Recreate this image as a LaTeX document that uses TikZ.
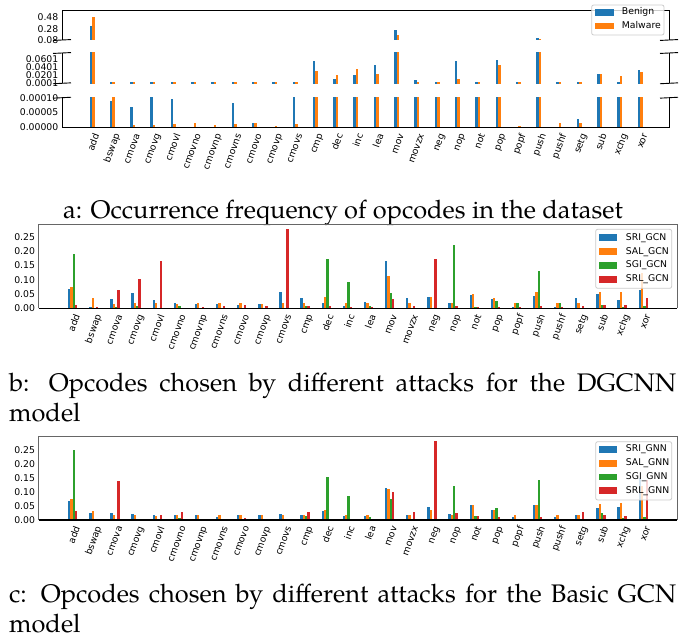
\documentclass[tikz,border=0pt]{standalone}
\usepackage{fontspec}
\newfontfamily\dejavu{DejaVu Sans}
\newfontfamily\capfont{TeX Gyre Pagella}
\newcommand\tf{\dejavu\fontsize{9.3}{10}\selectfont}
\newcommand\cf{\capfont\fontsize{25.4}{30}\selectfont}
\definecolor{cblue}{HTML}{1F77B4}
\definecolor{corange}{HTML}{FF7F0E}
\definecolor{cgreen}{HTML}{2CA02C}
\definecolor{cred}{HTML}{D62728}
\tikzset{
  xlab/.style={rotate=70, anchor=north east, inner sep=0pt, text height=6.8pt, text depth=1.9pt, font=\tf},
  ylab/.style={anchor=east, inner sep=0pt, text height=6.8pt, text depth=0pt, font=\tf},
  spine/.style={line width=0.9pt, black},
  spinegray/.style={line width=1pt, black!60},
  brk/.style={line width=0.9pt, black},
  legbox/.style={draw=black!20, fill=white, fill opacity=0.8, rounded corners=2pt, line width=0.8pt},
  legtxt/.style={anchor=west, inner sep=0pt, text height=6.8pt, text depth=1.9pt, font=\tf},
  captext/.style={inner sep=0pt, font=\cf},
}
\def\labs{add,bswap,cmova,cmovg,cmovl,cmovno,cmovnp,cmovns,cmovo,cmovp,cmovs,cmp,dec,inc,lea,mov,movzx,neg,nop,not,pop,popf,push,pushf,setg,sub,xchg,xor}
% chart a data, units of 1e-4
\def\dataA{0/3200/4900, 1/0.897/2, 2/0.666/0.069, 3/2/0.07, 4/0.94/0.1, 5/0/0.14, 6/0/0.07, 7/0.83/0.1, 8/0.14/0.14, 9/0/0.04, 10/2/0.1, 11/550/310, 12/107/206, 13/206/350, 14/450/230, 15/2500/1650, 16/80/30, 17/2/2, 18/550/107, 19/10/30, 20/576/450, 21/0/0.04, 22/1140/1000, 23/0/0.14, 24/0.28/0.14, 25/230/230, 26/30/180, 27/330/280}
\def\dataB{0/.067/.074/.190/.012, 1/.005/.036/0/.005, 2/.033/.015/.005/.064, 3/.053/.019/.008/.102, 4/.029/.019/0/.165, 5/.019/.015/.008/0, 6/.015/.019/0/.005, 7/.015/.019/0/.008, 8/.012/.019/0/.012, 9/.015/.015/0/.008, 10/.057/.019/0/.277, 11/.036/.019/.008/.008, 12/.019/.040/.172/.008, 13/.008/.019/.092/.005, 14/.022/.019/.008/.005, 15/.165/.113/.053/.033, 16/.036/.019/0/.008, 17/.040/.040/0/.172, 18/.019/.019/.221/.008, 19/.047/.050/.003/.003, 20/.033/.036/.026/.005, 21/.005/.019/.019/.005, 22/.043/.057/.130/.008, 23/.005/.019/.019/.005, 24/.036/.019/0/.008, 25/.050/.057/.012/.012, 26/.029/.057/.005/.012, 27/.064/.124/.008/.036}
\def\dataC{0/.068/.075/.250/.032, 1/.025/.032/0/0, 2/.025/.018/0/.139, 3/.021/.018/0/.004, 4/.018/.014/0/.018, 5/.018/.018/.007/.029, 6/.018/.018/0/.004, 7/.011/.018/0/.004, 8/.018/.018/0/.007, 9/.018/.018/0/.004, 10/.021/.018/0/.004, 11/.018/.018/.014/.029, 12/.032/.036/.154/0, 13/.014/.018/.086/0, 14/.014/.018/.011/.004, 15/.114/.111/.075/.100, 16/.018/.018/0/.029, 17/.046/.036/0/.282, 18/.021/.018/.121/.025, 19/.054/.054/.014/.014, 20/.036/.036/.043/.011, 21/.011/.018/.004/0, 22/.054/.054/.143/.011, 23/.011/.018/.004/0, 24/.018/.018/0/.029, 25/.043/.057/.025/.018, 26/.046/.061/.007/.014, 27/.150/.120/.011/.143}
\begin{document}
\begin{tikzpicture}[x=1pt,y=-1pt]
\useasboundingbox (0,0) rectangle (688,642);
\fill[white] (0,0) rectangle (688,642);
% ================= chart a =================
\begin{scope}
  \clip (62,10) rectangle (669,40);
  \foreach \i/\b/\m in \dataA {
    \pgfmathsetmacro\xc{92+\i*20.3}
    \pgfmathsetmacro\yb{40-(\b-800)*0.005675}
    \pgfmathsetmacro\ym{40-(\m-800)*0.005675}
    \fill[cblue] (\xc-2.5,41) rectangle (\xc,\yb);
    \fill[corange] (\xc,41) rectangle (\xc+2.5,\ym);
  }
\end{scope}
\begin{scope}
  \clip (62,53) rectangle (669,83.3);
  \foreach \i/\b/\m in \dataA {
    \pgfmathsetmacro\xc{92+\i*20.3}
    \pgfmathsetmacro\yb{min(83.3-(\b-1)*0.0405,82.4)}
    \pgfmathsetmacro\ym{min(83.3-(\m-1)*0.0405,82.4)}
    \fill[cblue] (\xc-2.5,84) rectangle (\xc,\yb);
    \fill[corange] (\xc,84) rectangle (\xc+2.5,\ym);
  }
\end{scope}
\begin{scope}
  \clip (62,97.7) rectangle (669,127);
  \foreach \i/\b/\m in \dataA {
    \pgfmathsetmacro\xc{92+\i*20.3}
    \pgfmathsetmacro\yb{127-min(\b,2)*29.3}
    \pgfmathsetmacro\ym{127-min(\m,2)*29.3}
    \fill[cblue] (\xc-2.5,127) rectangle (\xc,\yb);
    \fill[corange] (\xc,127) rectangle (\xc+2.5,\ym);
  }
\end{scope}
\draw[spine] (62,40) -- (62,10) -- (669,10) -- (669,40);
\draw[spine] (62,53) -- (62,83.3);
\draw[spine] (669,53) -- (669,83.3);
\draw[spine] (62,97.7) -- (62,127) -- (669,127) -- (669,97.7);
\foreach \yy in {40,53,83.3,97.7} {
  \foreach \xx in {62,669} {
    \draw[brk] (\xx-9,\yy+0.45) -- (\xx+9,\yy-0.45);
  }
}
\node[ylab] (a48) at (58.5,17.3) {0.48};
\node[ylab] (a28) at (58.5,28.65) {0.28};
\node[ylab] (a08) at (58.5,40) {0.08};
\node[ylab] (a0601) at (58.5,59) {0.0601};
\node[ylab] (a0401) at (58.5,67.1) {0.0401};
\node[ylab] (a0201) at (58.5,75.2) {0.0201};
\node[ylab] (a0001) at (58.5,83.3) {0.0001};
\node[ylab] (a00010) at (58.5,97.7) {0.00010};
\node[ylab] (a00005) at (58.5,112.35) {0.00005};
\node[ylab] (a00000) at (58.5,127) {0.00000};
\foreach \lab [count=\i from 0] in \labs {
  \pgfmathsetmacro\xc{92+\i*20.3}
  \node[xlab] (a-\lab) at (\xc+1,132.5) {\lab};
}
\draw[legbox] (591.7,5) rectangle (664,35);
\fill[cblue] (595,9.1) rectangle (614,15.6);
\fill[corange] (595,22.7) rectangle (614,29.2);
\node[legtxt] (la1) at (621.7,12.3) {Benign};
\node[legtxt] (la2) at (621.7,26) {Malware};
\node[captext, anchor=base] (capa) at (343,218.3) {a: Occurrence frequency of opcodes in the dataset};
% ================= chart b =================
\foreach \i/\s/\a/\g/\r in \dataB {
  \pgfmathsetmacro\xc{72.7+\i*21.13}
  \fill[cblue] (\xc-4.66,308.3) rectangle (\xc-2.33,{308.3-\s*286.6});
  \fill[corange] (\xc-2.33,308.3) rectangle (\xc,{308.3-\a*286.6});
  \fill[cgreen] (\xc,308.3) rectangle (\xc+2.33,{308.3-\g*286.6});
  \fill[cred] (\xc+2.33,308.3) rectangle (\xc+4.66,{308.3-\r*286.6});
}
\draw[spinegray] (38.7,308.3) -- (38.7,224.7) -- (677.3,224.7) -- (677.3,308.3);
\draw[spine, line width=1.1pt] (38.7,308.3) -- (677.3,308.3);
\foreach \v/\t [count=\k] in {0/0.00,0.05/0.05,0.10/0.10,0.15/0.15,0.20/0.20,0.25/0.25} {
  \node[ylab] (by\k) at (35.2,{308.3-\v*286.6}) {\t};
}
\foreach \lab [count=\i from 0] in \labs {
  \pgfmathsetmacro\xc{72.7+\i*21.13}
  \node[xlab] (b-\lab) at (\xc+1,313.3) {\lab};
}
\draw[legbox] (595.7,229.3) rectangle (671.7,288.3);
\fill[cblue] (599.3,234.35) rectangle (617.3,241.05);
\fill[corange] (599.3,248.35) rectangle (617.3,255.05);
\fill[cgreen] (599.3,261.95) rectangle (617.3,268.65);
\fill[cred] (599.3,275.95) rectangle (617.3,282.65);
\node[legtxt] (lb1) at (625.7,237.7) {SRI\_GCN};
\node[legtxt] (lb2) at (625.7,251.7) {SAL\_GCN};
\node[legtxt] (lb3) at (625.7,265.3) {SGI\_GCN};
\node[legtxt] (lb4) at (625.7,279.3) {SRL\_GCN};
\node[captext, anchor=base west] (capb) at (9,391.5) {\parbox[t]{667pt}{b: Opcodes chosen by different attacks for the DGCNN\linebreak model}};
% ================= chart c =================
\foreach \i/\s/\a/\g/\r in \dataC {
  \pgfmathsetmacro\xc{72.7+\i*21.13}
  \fill[cblue] (\xc-4.66,520) rectangle (\xc-2.33,{520-\s*280});
  \fill[corange] (\xc-2.33,520) rectangle (\xc,{520-\a*280});
  \fill[cgreen] (\xc,520) rectangle (\xc+2.33,{520-\g*280});
  \fill[cred] (\xc+2.33,520) rectangle (\xc+4.66,{520-\r*280});
}
\draw[spinegray] (38.7,520) -- (38.7,436.7) -- (677.3,436.7) -- (677.3,520);
\draw[spine, line width=1.1pt] (38.7,520) -- (677.3,520);
\foreach \v/\t [count=\k] in {0/0.00,0.05/0.05,0.10/0.10,0.15/0.15,0.20/0.20,0.25/0.25} {
  \node[ylab] (cy\k) at (35.2,{520-\v*280}) {\t};
}
\foreach \lab [count=\i from 0] in \labs {
  \pgfmathsetmacro\xc{72.7+\i*21.13}
  \node[xlab] (c-\lab) at (\xc+1,525) {\lab};
}
\draw[legbox] (595.7,441.7) rectangle (671.7,500);
\fill[cblue] (599.3,445.95) rectangle (617.3,452.65);
\fill[corange] (599.3,459.95) rectangle (617.3,466.65);
\fill[cgreen] (599.3,473.65) rectangle (617.3,480.35);
\fill[cred] (599.3,487.35) rectangle (617.3,494.05);
\node[legtxt] (lc1) at (625.7,449.3) {SRI\_GNN};
\node[legtxt] (lc2) at (625.7,463.3) {SAL\_GNN};
\node[legtxt] (lc3) at (625.7,477) {SGI\_GNN};
\node[legtxt] (lc4) at (625.7,490.7) {SRL\_GNN};
\node[captext, anchor=base west] (capc) at (9,602.3) {\parbox[t]{667pt}{c: Opcodes chosen by different attacks for the Basic GCN\linebreak model}};
\end{tikzpicture}
\end{document}
